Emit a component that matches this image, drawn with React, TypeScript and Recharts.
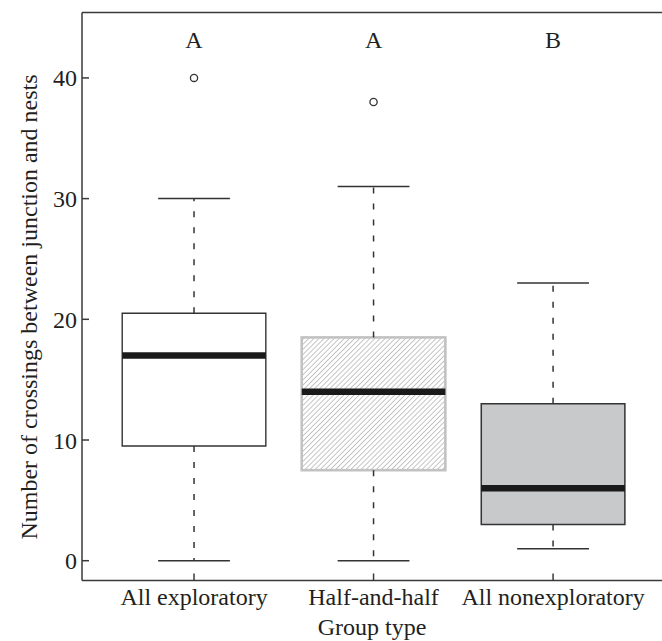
import React from 'react';
import {
  ComposedChart,
  XAxis,
  YAxis,
  Scatter,
  ReferenceArea,
  ReferenceLine,
} from 'recharts';

// ---- data ----
const categories = ['All exploratory', 'Half-and-half', 'All nonexploratory'];
const groupPos = [1, 2, 3];
const q1 = [9.5, 7.5, 3];
const medians = [17, 14, 6];
const q3 = [20.5, 18.5, 13];
const whiskerLow = [0, 0, 1];
const whiskerHigh = [30, 31, 23];
const outlierGroups = [1, 2];
const outlierValues = [40, 38];
const letters = ['A', 'A', 'B'];
const letterLevel = 42.45;
const yTicks = [0, 10, 20, 30, 40];

// ---- layout / style ----
const X_MIN = 0.376;
const X_MAX = 3.707;
const Y_MIN = -1.64;
const Y_MAX = 45.42;
const BOX_HALF = 0.4;
const CAP_HALF = 0.2;
const FONT = '"Liberation Serif", "DejaVu Serif", serif';
const FS = 24;
const TEXT = '#231f20';
const AXIS = '#3a3a3a';
const DARK = '#333333';

const outlierData = outlierGroups.map((g, i) => ({ x: g, y: outlierValues[i] }));
const letterData = groupPos.map((g, i) => ({ x: g, y: letterLevel, label: letters[i] }));

const boxStyles = [
  { fill: '#ffffff', stroke: DARK, strokeWidth: 1.4, hatch: false },
  { fill: 'url(#hatch)', stroke: '#c2c2c2', strokeWidth: 2.6, hatch: true },
  { fill: '#c8c9cb', stroke: DARK, strokeWidth: 1.5, hatch: false },
];

const HatchBox = (props: any) => {
  const { x, y, width, height } = props;
  return (
    <g>
      <defs>
        <pattern
          id="hatch"
          patternUnits="userSpaceOnUse"
          width="3.6"
          height="3.6"
          patternTransform="rotate(45)"
        >
          <line x1="0" y1="0" x2="0" y2="3.6" stroke="#adadad" strokeWidth="1.4" />
        </pattern>
      </defs>
      <rect x={x} y={y} width={width} height={height} fill="#ffffff" />
      <rect
        x={x}
        y={y}
        width={width}
        height={height}
        fill="url(#hatch)"
        stroke="#c2c2c2"
        strokeWidth={2.6}
      />
    </g>
  );
};

const LetterShape = (props: any) => {
  const { cx, cy, payload } = props;
  return (
    <text
      x={cx}
      y={cy}
      textAnchor="middle"
      fontFamily={FONT}
      fontSize={FS}
      fill={TEXT}
    >
      {payload.label}
    </text>
  );
};

const OutlierShape = (props: any) => {
  const { cx, cy } = props;
  return <circle cx={cx} cy={cy} r={3.6} fill="#ffffff" stroke={DARK} strokeWidth={1.3} />;
};

const YTitle = () => (
  <text
    x={37}
    y={307}
    transform="rotate(-90, 37, 307)"
    textAnchor="middle"
    fontFamily={FONT}
    fontSize={FS}
    fill={TEXT}
  >
    Number of crossings between junction and nests
  </text>
);

const XTitle = () => (
  <text x={372} y={635} textAnchor="middle" fontFamily={FONT} fontSize={FS} fill={TEXT}>
    Group type
  </text>
);

export default function App() {
  return (
    <div
      style={{
        position: 'absolute',
        left: 0,
        top: 0,
        width: 662,
        height: 641,
        overflow: 'hidden',
        background: '#fff',
      }}
    >
      <ComposedChart
        width={680}
        height={641}
        margin={{ top: 12.5, right: 0, bottom: 0, left: 0 }}
      >
        <XAxis
          type="number"
          dataKey="x"
          domain={[X_MIN, X_MAX]}
          allowDataOverflow
          ticks={groupPos}
          interval={0}
          tickFormatter={(v: number) => categories[v - 1] ?? ''}
          height={60.5}
          tickSize={-7}
          tickMargin={14.5}
          axisLine={{ stroke: AXIS, strokeWidth: 1.5 }}
          tickLine={{ stroke: AXIS, strokeWidth: 1.5 }}
          tick={{ fill: TEXT, fontSize: FS, fontFamily: FONT }}
          label={<XTitle />}
        />
        <YAxis
          type="number"
          dataKey="y"
          domain={[Y_MIN, Y_MAX]}
          allowDataOverflow
          ticks={yTicks}
          interval={0}
          width={82}
          tickSize={-7}
          tickMargin={12}
          axisLine={{ stroke: AXIS, strokeWidth: 1.5 }}
          tickLine={{ stroke: AXIS, strokeWidth: 1.5 }}
          tick={{ fill: TEXT, fontSize: FS, fontFamily: FONT }}
          label={<YTitle />}
        />

        {/* top border */}
        <ReferenceLine y={Y_MAX} stroke={AXIS} strokeWidth={1.5} ifOverflow="visible" />

        {/* whiskers */}
        {groupPos.map((g, i) => (
          <ReferenceLine
            key={'wu' + i}
            segment={[
              { x: g, y: q3[i] },
              { x: g, y: whiskerHigh[i] },
            ]}
            stroke={DARK}
            strokeWidth={1.5}
            strokeDasharray="6 10"
          />
        ))}
        {groupPos.map((g, i) => (
          <ReferenceLine
            key={'wl' + i}
            segment={[
              { x: g, y: q1[i] },
              { x: g, y: whiskerLow[i] },
            ]}
            stroke={DARK}
            strokeWidth={1.5}
            strokeDasharray="6 10"
          />
        ))}
        {/* caps */}
        {groupPos.map((g, i) => (
          <ReferenceLine
            key={'cu' + i}
            segment={[
              { x: g - CAP_HALF, y: whiskerHigh[i] },
              { x: g + CAP_HALF, y: whiskerHigh[i] },
            ]}
            stroke={DARK}
            strokeWidth={1.5}
          />
        ))}
        {groupPos.map((g, i) => (
          <ReferenceLine
            key={'cl' + i}
            segment={[
              { x: g - CAP_HALF, y: whiskerLow[i] },
              { x: g + CAP_HALF, y: whiskerLow[i] },
            ]}
            stroke={DARK}
            strokeWidth={1.5}
          />
        ))}

        {/* boxes */}
        {groupPos.map((g, i) =>
          boxStyles[i].hatch ? (
            <ReferenceArea
              key={'b' + i}
              x1={g - BOX_HALF}
              x2={g + BOX_HALF}
              y1={q1[i]}
              y2={q3[i]}
              shape={<HatchBox />}
            />
          ) : (
            <ReferenceArea
              key={'b' + i}
              x1={g - BOX_HALF}
              x2={g + BOX_HALF}
              y1={q1[i]}
              y2={q3[i]}
              fill={boxStyles[i].fill}
              fillOpacity={1}
              stroke={boxStyles[i].stroke}
              strokeWidth={boxStyles[i].strokeWidth}
            />
          )
        )}

        {/* medians */}
        {groupPos.map((g, i) => (
          <ReferenceLine
            key={'m' + i}
            segment={[
              { x: g - BOX_HALF, y: medians[i] },
              { x: g + BOX_HALF, y: medians[i] },
            ]}
            stroke="#1a1a1a"
            strokeWidth={6.5}
          />
        ))}

        <Scatter
          data={outlierData}
          dataKey="y"
          isAnimationActive={false}
          shape={<OutlierShape />}
        />
        <Scatter
          data={letterData}
          dataKey="y"
          isAnimationActive={false}
          shape={<LetterShape />}
        />
      </ComposedChart>
    </div>
  );
}
